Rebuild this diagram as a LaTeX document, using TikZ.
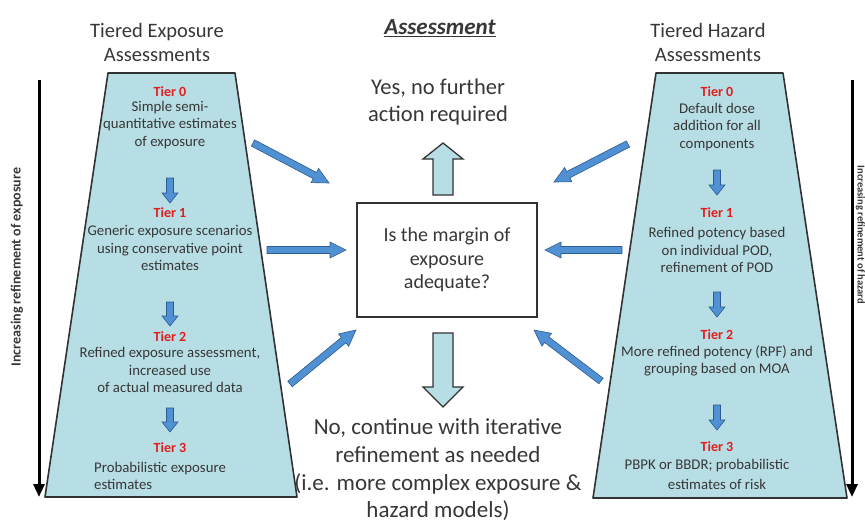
\documentclass[tikz,border=0pt]{standalone}
\usepackage{fontspec}
\setmainfont{Carlito}
\usetikzlibrary{arrows.meta,calc}
\definecolor{trap}{RGB}{183,222,228}
\definecolor{txt}{RGB}{55,55,55}
\definecolor{tierred}{RGB}{225,30,30}
\definecolor{bluef}{RGB}{80,145,212}
\definecolor{blued}{RGB}{45,90,145}
\definecolor{edge}{RGB}{50,50,50}
\newcommand\blkarrow[6]{% style, from, to, shaft half, head half, head length
  \coordinate (hb) at ($(#3)!#6!(#2)$);
  \draw[#1] ($(#2)!#4!90:(#3)$) -- ($(hb)!#4!90:(#3)$) -- ($(hb)!#5!90:(#3)$) -- (#3)
    -- ($(hb)!#5!-90:(#3)$) -- ($(hb)!#4!-90:(#3)$) -- ($(#2)!#4!-90:(#3)$) -- cycle;}
\begin{document}
\begin{tikzpicture}[x=1pt,y=-1pt,
  title/.style={text=txt,font=\fontsize{20.5}{24}\selectfont,align=center},
  big/.style={text=txt,font=\fontsize{23}{27.7}\selectfont,align=center},
  body/.style={text=txt,font=\fontsize{14.8}{17.5}\selectfont,align=center,inner sep=0pt},
  tier/.style={text=tierred,font=\bfseries\fontsize{14}{16}\selectfont,inner sep=0pt},
  trapbox/.style={fill=trap,draw=edge,line width=1.6pt,line join=round},
  thin/.style={fill=bluef,draw=blued,line width=0.6pt,line join=miter},
  fat/.style={fill=trap,draw=edge,line width=1.3pt,line join=miter},
  side/.style={line width=3pt,-{Triangle[length=13pt,width=11pt]}},
  vlabel/.style={text=txt,font=\bfseries\fontsize{14}{16}\selectfont}]
\useasboundingbox (0,0) rectangle (865,522);
\clip (0,0) rectangle (865,522);

% side arrows
\coordinate (l1) at (39,80); \coordinate (l2) at (39,497);
\coordinate (r1) at (852,80); \coordinate (r2) at (852,497);
\draw[side] (l1) -- (l2);
\draw[side] (r1) -- (r2);
\node[vlabel,rotate=90] (lv) at (17,267) {Increasing refinement of exposure};
\node[text=txt,font=\bfseries\fontsize{10.5}{12}\selectfont,rotate=-90,inner sep=0pt] (rv) at (860.5,235) {Increasing refinement of hazard};

% trapezoids
\draw[trapbox] (108,73) -- (235,73) -- (297,497) -- (45,497) -- cycle;
\draw[trapbox] (656,73) -- (783,73) -- (847,498) -- (593,498) -- cycle;

% titles
\node[title] (te) at (157,42) {Tiered Exposure\\Assessments};
\node[title] (th) at (708,42) {Tiered Hazard\\Assessments};
\node[text=txt,font=\bfseries\itshape\fontsize{23}{27}\selectfont] (as) at (440,28) {\underline{Assessment}};

% centre
\node[draw=edge,line width=1.3pt,minimum width=180pt,minimum height=114pt,
      text=txt,font=\fontsize{20}{23.5}\selectfont,align=center] (box) at (447,260)
      {Is the margin of\\exposure\\adequate?};
\node[text=txt,font=\fontsize{22.5}{27}\selectfont,align=center] (yes) at (438,102) {Yes, no further\\action required};
\node[big] (no) at (438,470) {No, continue with iterative\\refinement as needed\\(i.e. more complex exposure \&\\hazard models)};
\coordinate (ua) at (443,195); \coordinate (ub) at (443,143);
\blkarrow{fat}{ua}{ub}{10pt}{20pt}{16pt}
\coordinate (da) at (443,333); \coordinate (db) at (443,407);
\blkarrow{fat}{da}{db}{10pt}{20pt}{20pt}

% left tiers
\node[tier] (e0) at (170,92) {Tier 0};
\node[body] (e0b) at (170,125) {Simple semi-\\quantitative estimates\\of exposure};
\coordinate (ea1) at (170,178); \coordinate (ea2) at (170,203);
\blkarrow{thin}{ea1}{ea2}{3.5pt}{8pt}{10pt}
\node[tier] (e1) at (170,213) {Tier 1};
\node[body] (e1b) at (170,248) {Generic exposure scenarios\\using conservative point\\estimates};
\coordinate (eb1) at (170,302); \coordinate (eb2) at (170,326);
\blkarrow{thin}{eb1}{eb2}{3.5pt}{8pt}{10pt}
\node[tier] (e2) at (170,337) {Tier 2};
\node[body] (e2b) at (170,370) {Refined exposure assessment,\\increased use\\of actual measured data};
\coordinate (ec1) at (170,408); \coordinate (ec2) at (170,432);
\blkarrow{thin}{ec1}{ec2}{3.5pt}{8pt}{10pt}
\node[tier] (e3) at (170,448) {Tier 3};
\node[body,align=left,anchor=west] (e3b) at (94,476) {Probabilistic exposure\\estimates};

% right tiers
\node[tier] (h0) at (717,92) {Tier 0};
\node[body] (h0b) at (717,127) {Default dose\\addition for all\\components};
\coordinate (ha1) at (717,170); \coordinate (ha2) at (717,195);
\blkarrow{thin}{ha1}{ha2}{3.5pt}{8pt}{10pt}
\node[tier] (h1) at (717,213) {Tier 1};
\node[body] (h1b) at (717,250) {Refined potency based\\on individual POD,\\refinement of POD};
\coordinate (hb1) at (717,292); \coordinate (hb2) at (717,317);
\blkarrow{thin}{hb1}{hb2}{3.5pt}{8pt}{10pt}
\node[tier] (h2) at (717,335) {Tier 2};
\node[body] (h2b) at (717,361) {More refined potency (RPF) and\\grouping based on MOA};
\coordinate (hc1) at (717,405); \coordinate (hc2) at (717,430);
\blkarrow{thin}{hc1}{hc2}{3.5pt}{8pt}{10pt}
\node[tier] (h3) at (717,447) {Tier 3};
\node[body] (h3b) at (707,466) {PBPK or BBDR; probabilistic};
\node[body] (h3c) at (717,484) {estimates of risk};

% diagonal arrows to centre
\coordinate (p1) at (253,143); \coordinate (q1) at (329,183);
\coordinate (p2) at (267,250); \coordinate (q2) at (346,250);
\coordinate (p3) at (290,384); \coordinate (q3) at (356,330);
\coordinate (p4) at (628,144); \coordinate (q4) at (554,182);
\coordinate (p5) at (622,250); \coordinate (q5) at (545,250);
\coordinate (p6) at (601,381); \coordinate (q6) at (534,330);
\blkarrow{thin}{p1}{q1}{3.5pt}{8pt}{16pt}
\blkarrow{thin}{p2}{q2}{3.5pt}{8pt}{16pt}
\blkarrow{thin}{p3}{q3}{3.5pt}{8pt}{16pt}
\blkarrow{thin}{p4}{q4}{3.5pt}{8pt}{16pt}
\blkarrow{thin}{p5}{q5}{3.5pt}{8pt}{16pt}
\blkarrow{thin}{p6}{q6}{3.5pt}{8pt}{16pt}
\end{tikzpicture}
\end{document}
